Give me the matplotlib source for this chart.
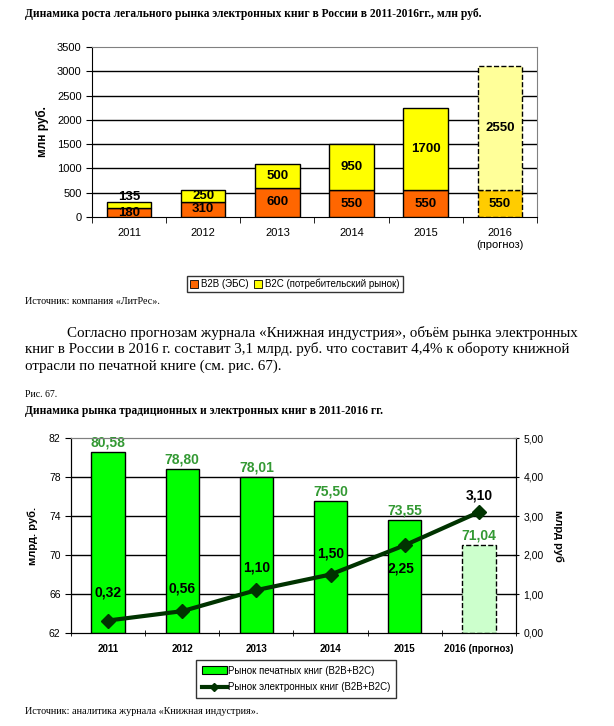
import matplotlib.pyplot as plt
import numpy as np
from matplotlib.patches import Patch
from matplotlib.lines import Line2D

years1 = ['2011', '2012', '2013', '2014', '2015', '2016\n(прогноз)']
b2b = [180, 310, 600, 550, 550, 550]
b2c = [135, 250, 500, 950, 1700, 2550]

years2 = ['2011', '2012', '2013', '2014', '2015', '2016 (прогноз)']
print_market = [80.58, 78.80, 78.01, 75.50, 73.55, 71.04]
ebook_market = [0.32, 0.56, 1.10, 1.50, 2.25, 3.10]

# label nudges (points)
b2c_label_dy = [6, 0, 0, 0, 0, 0]
ebook_offsets = [(0, 20), (0, 16), (0, 16), (0, 15), (-3, -17), (0, 12)]

SANS = 'Liberation Sans'
SERIF = 'Liberation Serif'
W, H = 614, 726

fig = plt.figure(figsize=(W / 100, H / 100), dpi=100)


def px_axes(left, top, right, bottom):
    return fig.add_axes([left / W, 1 - bottom / H, (right - left) / W, (bottom - top) / H])


def fig_text(x, y, s, **kw):
    fig.text(x / W, 1 - y / H, s, va='center', **kw)


# ---------- chart 1 ----------
fig_text(25, 14, 'Динамика роста легального рынка электронных книг в России в 2011-2016гг., млн руб.',
         family=SERIF, fontsize=8.3, fontweight='bold')

ax1 = px_axes(92, 47, 537, 217)
x = np.arange(len(years1))
last = len(years1) - 1
w = 0.6
for i in x:
    forecast = i == last
    ax1.bar(i, b2b[i], w, color='#FFCC00' if forecast else '#FF6600', edgecolor='black',
            linewidth=1, linestyle='--' if forecast else '-', zorder=3)
    ax1.bar(i, b2c[i], w, bottom=b2b[i], color='#FFFF99' if forecast else '#FFFF00',
            edgecolor='black', linewidth=1, linestyle='--' if forecast else '-', zorder=3)
    ax1.text(i, b2b[i] / 2, str(b2b[i]), ha='center', va='center', family=SANS,
             fontsize=9.5, fontweight='bold', zorder=4)
    ax1.annotate(str(b2c[i]), (i, b2b[i] + b2c[i] / 2), xytext=(0, b2c_label_dy[i]),
                 textcoords='offset points', ha='center', va='center', family=SANS,
                 fontsize=9.5, fontweight='bold', zorder=4)

ax1.set_xlim(-0.5, last + 0.5)
ax1.set_ylim(0, 3500)
yt = np.arange(0, 3501, 500)
ax1.set_yticks(yt)
for v in yt[1:-1]:
    ax1.axhline(v, color='black', lw=1, zorder=1)
ax1.set_xticks(x)
ax1.set_xticklabels(years1, family=SANS, fontsize=8)
ax1.set_xticks(np.arange(-0.5, last + 1), minor=True)
ax1.tick_params(axis='x', which='major', length=0, pad=8)
ax1.tick_params(axis='x', which='minor', length=4, direction='out')
ax1.tick_params(axis='y', length=4, direction='out', labelsize=8)
for lab in ax1.get_yticklabels():
    lab.set_family(SANS)
ax1.set_ylabel('млн руб.', family=SANS, fontsize=8.5, fontweight='bold', labelpad=6)
ax1.spines['top'].set_color('#808080')
ax1.spines['right'].set_color('#808080')

leg1 = fig.legend(handles=[Patch(facecolor='#FF6600', edgecolor='black', lw=0.6, label='B2B (ЭБС)'),
                           Patch(facecolor='#FFFF00', edgecolor='black', lw=0.6,
                                 label='B2C (потребительский рынок)')],
                  loc='center', bbox_to_anchor=(295 / W, 1 - 284 / H), ncol=2,
                  prop={'family': SANS, 'size': 7}, frameon=True, fancybox=False,
                  handlelength=0.8, handleheight=0.8, handletextpad=0.3, columnspacing=0.6,
                  borderpad=0.3, edgecolor='black')
leg1.get_frame().set_linewidth(1)

fig_text(25, 302, 'Источник: компания «ЛитРес».', family=SERIF, fontsize=7.3)

# ---------- paragraph ----------
fig_text(67, 333, 'Согласно прогнозам журнала «Книжная индустрия», объём рынка электронных',
         family=SERIF, fontsize=10.8)
fig_text(25, 349.5, 'книг в России в 2016 г. составит 3,1 млрд. руб. что составит 4,4% к обороту книжной',
         family=SERIF, fontsize=10.8)
fig_text(25, 366, 'отрасли по печатной книге (см. рис. 67).', family=SERIF, fontsize=10.8)

fig_text(25, 394, 'Рис. 67.', family=SERIF, fontsize=7)
fig_text(25, 411, 'Динамика рынка традиционных и электронных книг в 2011-2016 гг.',
         family=SERIF, fontsize=8.3, fontweight='bold')

# ---------- chart 2 ----------
ax2 = px_axes(71, 438, 516, 633)
x2 = np.arange(len(years2))
last2 = len(years2) - 1
for i in x2:
    forecast = i == last2
    ax2.bar(i, print_market[i] - 62, 0.45, bottom=62,
            color='#CCFFCC' if forecast else '#00FF00', edgecolor='black', lw=1,
            linestyle='--' if forecast else '-', zorder=3)
    ax2.annotate(f'{print_market[i]:.2f}'.replace('.', ','), (i, print_market[i]),
                 xytext=(0, 7), textcoords='offset points', ha='center', va='center',
                 family=SANS, fontsize=10, fontweight='bold', color='#339933', zorder=5)
ax2.set_xlim(-0.5, last2 + 0.5)
ax2.set_ylim(62, 82)
yt2 = np.arange(62, 83, 4)
ax2.set_yticks(yt2)
for v in yt2[1:-1]:
    ax2.axhline(v, color='black', lw=1, zorder=1)
ax2.set_xticks(x2)
ax2.set_xticklabels(years2, family=SANS, fontsize=7, fontweight='bold')
ax2.set_xticks(np.arange(-0.5, last2 + 1), minor=True)
ax2.tick_params(axis='x', which='major', length=0, pad=8)
ax2.tick_params(axis='x', which='minor', length=4, direction='inout')
ax2.tick_params(axis='y', length=4, direction='out', labelsize=7.5)
for lab in ax2.get_yticklabels():
    lab.set_family(SANS)
ax2.set_ylabel('млрд. руб.', family=SANS, fontsize=8, fontweight='bold', labelpad=8)
ax2.spines['top'].set_color('#808080')

ax3 = ax2.twinx()
ax3.plot(x2, ebook_market, color='#003300', lw=3, marker='D', markersize=7, zorder=4)
for i, v in enumerate(ebook_market):
    ax3.annotate(f'{v:.2f}'.replace('.', ','), (i, v), xytext=ebook_offsets[i],
                 textcoords='offset points', ha='center', va='center', family=SANS,
                 fontsize=10, fontweight='bold', color='black')
ax3.set_ylim(0, 5)
ax3.set_yticks(np.arange(0, 5.01, 1))
ax3.set_yticklabels([f'{v:.2f}'.replace('.', ',') for v in np.arange(0, 5.01, 1)],
                    family=SANS, fontsize=7.5)
ax3.tick_params(axis='y', length=4, direction='inout')
ax3.set_ylabel('млрд руб', family=SANS, fontsize=8, fontweight='bold', rotation=270,
               labelpad=14)
ax3.spines['top'].set_color('#808080')

leg2 = fig.legend(handles=[Patch(facecolor='#00FF00', edgecolor='black', lw=0.8,
                                 label='Рынок печатных книг (B2B+B2C)'),
                           Line2D([], [], color='#003300', lw=3, marker='D', markersize=4,
                                  label='Рынок электронных книг (B2B+B2C)')],
                  loc='center', bbox_to_anchor=(296 / W, 1 - 679 / H), ncol=1,
                  prop={'family': SANS, 'size': 7}, frameon=True, fancybox=False,
                  handlelength=2.6, handleheight=0.9, handletextpad=0.1, labelspacing=0.7,
                  borderpad=0.6, borderaxespad=0, edgecolor='black')
leg2.get_frame().set_linewidth(1)

fig_text(25, 712, 'Источник: аналитика журнала «Книжная индустрия».', family=SERIF, fontsize=7.3)

fig.savefig('out.png', dpi=100)
